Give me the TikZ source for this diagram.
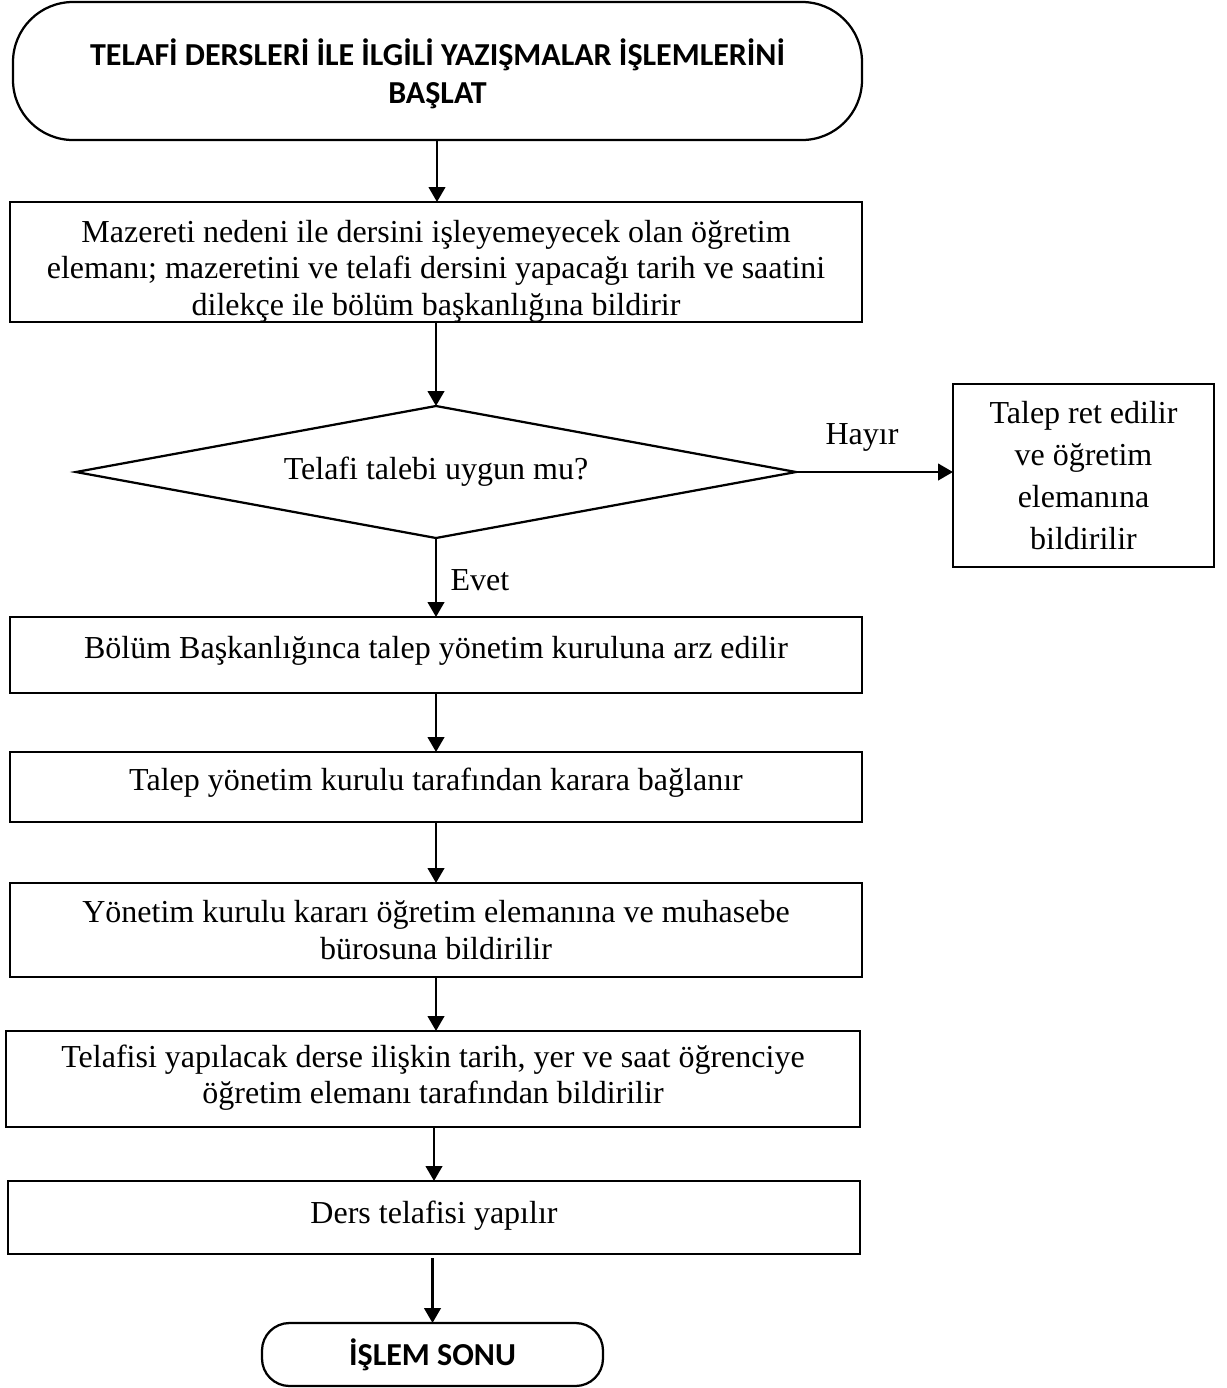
\documentclass[tikz,border=0pt]{standalone}
\usepackage{fontspec}
\setmainfont{Liberation Serif}
\newfontfamily\headfont{Carlito}
\usetikzlibrary{shapes.geometric,arrows.meta}
\newlength\pxu
\setlength\pxu{0.4pt}
\begin{document}
\begin{tikzpicture}[x=0.4pt,y=-0.4pt,
  every node/.style={inner sep=0pt, outer sep=0pt},
  proc/.style={draw, line width=1pt, rectangle, align=center,
    font=\fontsize{12.8}{14.6}\selectfont},
  term/.style={draw, line width=0.9pt, rectangle, align=center,
    font=\headfont\bfseries\fontsize{12.8}{15.2}\selectfont},
  decide/.style={draw, line width=0.9pt, diamond, aspect=5.45, align=center,
    font=\fontsize{12.8}{14.6}\selectfont},
  lbl/.style={font=\fontsize{12.8}{14.6}\selectfont},
  arr/.style={line width=1.1pt, -{Triangle[length=6pt,width=6.6pt]}},
]
\useasboundingbox (0,0) rectangle (1227,1388);

% start terminal
\node[term, rounded corners=24pt, minimum width=849\pxu, minimum height=138\pxu, text depth=0pt]
  (start) at (437.5,71) {TELAFİ DERSLERİ İLE İLGİLİ YAZIŞMALAR İŞLEMLERİNİ\\BAŞLAT};

% process steps
\node[proc, minimum width=852\pxu, minimum height=120\pxu] (b1) at (436,262)
  {\rule{0pt}{16pt}Mazereti nedeni ile dersini işleyemeyecek olan öğretim\\
   elemanı; mazeretini ve telafi dersini yapacağı tarih ve saatini\\
   dilekçe ile bölüm başkanlığına bildirir};

\node[decide, minimum width=720\pxu, minimum height=132\pxu] (dec) at (436,472)
  {Telafi talebi uygun mu?};

\node[proc, font=\fontsize{12.8}{16.8}\selectfont,
  minimum width=261\pxu, minimum height=183\pxu] (rej) at (1083.5,475.5)
  {Talep ret edilir\\ve öğretim\\elemanına\\bildirilir};

\node[proc, minimum width=852\pxu, minimum height=76\pxu, text depth=6pt] (b2) at (436,655)
  {Bölüm Başkanlığınca talep yönetim kuruluna arz edilir};

\node[proc, minimum width=852\pxu, minimum height=70\pxu, text depth=6pt] (b3) at (436,787)
  {Talep yönetim kurulu tarafından karara bağlanır};

\node[proc, minimum width=852\pxu, minimum height=94\pxu] (b4) at (436,930)
  {Yönetim kurulu kararı öğretim elemanına ve muhasebe\\bürosuna bildirilir};

\node[proc, minimum width=854\pxu, minimum height=96\pxu, text depth=4pt] (b5) at (433,1079)
  {Telafisi yapılacak derse ilişkin tarih, yer ve saat öğrenciye\\
   öğretim elemanı tarafından bildirilir};

\node[proc, minimum width=852\pxu, minimum height=73\pxu, text depth=4.5pt] (b6) at (434,1217.5)
  {Ders telafisi yapılır};

% end terminal
\node[term, rounded corners=11pt, minimum width=341\pxu, minimum height=63\pxu]
  (stop) at (432.5,1354.5) {İŞLEM SONU};

% branch labels
\node[lbl] (hayir) at (862,437) {Hayır};
\node[lbl] (evet) at (480,580) {Evet};

% connectors
\draw[arr] (start.south -| 437,0) -- (b1.north -| 437,0);
\draw[arr] (b1.south -| 436,0) -- (dec.north);
\draw[arr] (dec.east) -- (rej.west |- dec.east);
\draw[arr] (dec.south) -- (b2.north -| dec.south);
\draw[arr] (b2.south -| 436,0) -- (b3.north -| 436,0);
\draw[arr] (b3.south -| 436,0) -- (b4.north -| 436,0);
\draw[arr] (b4.south -| 436,0) -- (b5.north -| 436,0);
\draw[arr] (b5.south -| 434,0) -- (b6.north -| 434,0);
\draw[arr] ([yshift=-4\pxu]b6.south -| stop.north) -- (stop.north);
\end{tikzpicture}
\end{document}
